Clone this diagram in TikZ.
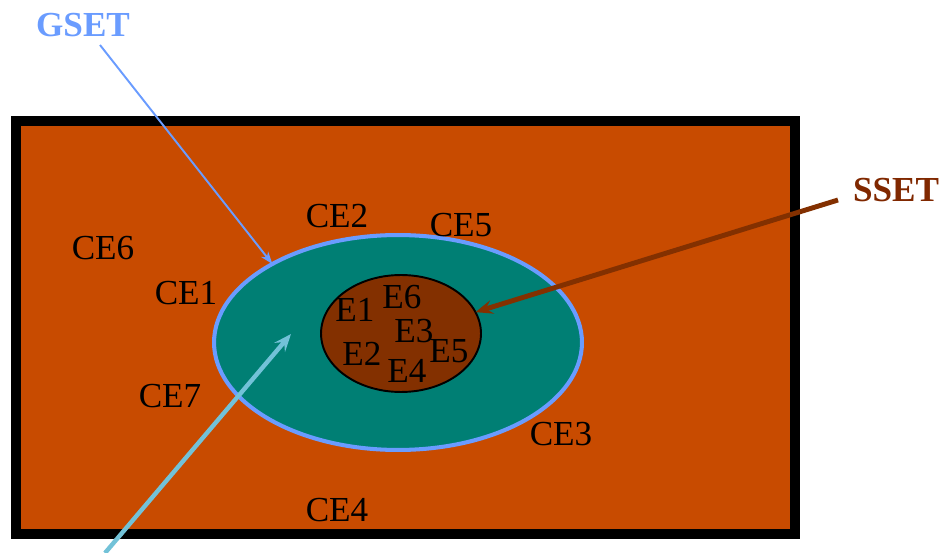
\documentclass[tikz,border=0pt]{standalone}
\usepackage{fontspec}
\setmainfont{Liberation Serif}
\definecolor{ceorange}{HTML}{C84B00}
\definecolor{gteal}{HTML}{007F74}
\definecolor{gblue}{HTML}{6A9CFF}
\definecolor{sbrown}{HTML}{833000}
\definecolor{sdark}{HTML}{802800}
\definecolor{skyarrow}{HTML}{72C2D8}
\usetikzlibrary{shapes.geometric,arrows.meta}

\begin{document}
\begin{tikzpicture}[
  x=0.02cm, y=-0.02cm,
  lbl/.style={font=\fontsize{20}{24}\selectfont, inner sep=0pt},
  setlbl/.style={font=\fontsize{20}{24}\selectfont\bfseries, text=#1, inner sep=0pt},
  region/.style={ellipse, draw=#1, inner sep=0pt, outer sep=0pt},
  ptr/.style={draw=#1, -{Stealth[length=10pt, width=8pt, inset=4pt]}},
]
  \useasboundingbox (0,0) rectangle (945,553);

  % Outer box: the CE region
  \draw[line width=6.2pt, fill=ceorange] (16,121) rectangle (795,534);

  % GSET and SSET regions
  \node[region=gblue, fill=gteal, line width=2.3pt,
    minimum width=7.36cm, minimum height=4.3cm] (gset) at (398,342.5) {};
  \node[region=black, fill=sbrown, line width=1.1pt,
    minimum width=3.2cm, minimum height=2.34cm] (sset) at (401,333.5) {};

  % CE labels
  \node[lbl] (ce1) at (186,293) {CE1};
  \node[lbl] (ce2) at (337,216) {CE2};
  \node[lbl] (ce3) at (561,434) {CE3};
  \node[lbl] (ce4) at (337,510) {CE4};
  \node[lbl] (ce5) at (461,225) {CE5};
  \node[lbl] (ce6) at (103,248) {CE6};
  \node[lbl] (ce7) at (170,396) {CE7};

  % E labels
  \node[lbl] (e1) at (355,310) {E1};
  \node[lbl] (e2) at (362,354) {E2};
  \node[lbl] (e3) at (414,331) {E3};
  \node[lbl] (e4) at (407,371) {E4};
  \node[lbl] (e5) at (449,351) {E5};
  \node[lbl] (e6) at (402,297) {E6};

  % Set names
  \node[setlbl=gblue] (gname) at (83,25) {GSET};
  \node[setlbl=sdark] (sname) at (896,190) {SSET};

  % Pointers
  \coordinate (gtail) at (100,45);
  \coordinate (stail) at (838,200);
  \coordinate (btail) at (105,553);
  \coordinate (bhead) at (291,334);
  \draw[ptr=gblue, line width=1.1pt,
    -{Stealth[length=7pt, width=5pt, inset=2pt]}] (gtail) -- (gset.148);
  \draw[ptr=sbrown, line width=2.8pt] (stail) -- (sset.16);
  \draw[ptr=skyarrow, line width=2.5pt] (btail) -- (bhead);
\end{tikzpicture}
\end{document}
